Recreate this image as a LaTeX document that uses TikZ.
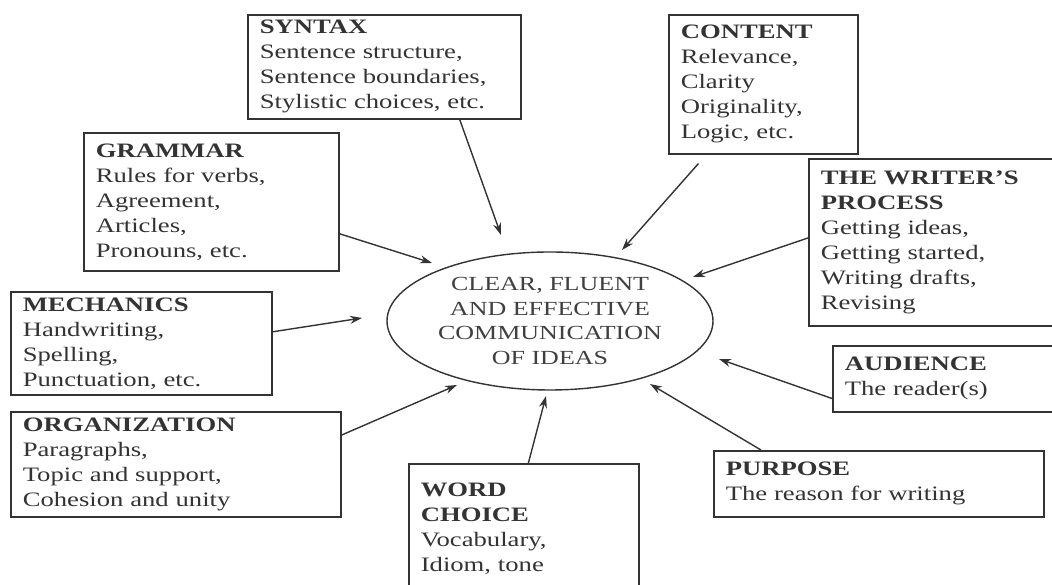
\documentclass[tikz,border=0pt]{standalone}
\usepackage{fontspec}
\setmainfont{Liberation Serif}[FakeStretch=1.3]
\usetikzlibrary{shapes.geometric,arrows.meta}

\definecolor{inkgray}{HTML}{333333}

\tikzset{
  topic/.style={draw=inkgray, line width=1.6pt, anchor=north west, align=left,
    inner xsep=12pt, text=black!80, font=\fontsize{20.5}{25}\selectfont},
  goal/.style={draw=inkgray, ellipse, line width=1.4pt, inner xsep=-10pt, inner ysep=-5pt,
    minimum width=326pt, minimum height=138pt, align=center, text=black!75,
    font=\fontsize{20}{24.5}\selectfont},
  feed/.style={draw=inkgray, line width=1.4pt, -{Stealth[length=12pt,width=8pt]}},
}

\begin{document}
\begin{tikzpicture}[x=1pt,y=1pt]
  \useasboundingbox (0,0) rectangle (1052,585);

  % centre
  \node[goal] (goal) at (550,264) {CLEAR, FLUENT\\ AND EFFECTIVE\\ COMMUNICATION\\ OF IDEAS};

  % boxes round it
  \node[topic, minimum width=273pt, minimum height=104pt, text width=249pt] (syntax) at (247,571)
    {\textbf{SYNTAX}\\ Sentence structure,\\ Sentence boundaries,\\ Stylistic choices, etc.};
  \node[topic, minimum width=189pt, minimum height=139pt, text width=165pt] (content) at (668,571)
    {\textbf{CONTENT}\\ Relevance,\\ Clarity\\ Originality,\\ Logic, etc.};
  \node[topic, minimum width=255pt, minimum height=138pt, text width=231pt] (grammar) at (83,453)
    {\textbf{GRAMMAR}\\ Rules for verbs,\\ Agreement,\\ Articles,\\ Pronouns, etc.};
  \node[topic, minimum width=246pt, minimum height=167pt, text width=222pt] (writer) at (808,427)
    {\textbf{THE WRITER’S}\\ \textbf{PROCESS}\\ Getting ideas,\\ Getting started,\\ Writing drafts,\\ Revising};
  \node[topic, minimum width=261pt, minimum height=103pt, text width=237pt] (mechanics) at (10,294)
    {\textbf{MECHANICS}\\ Handwriting,\\ Spelling,\\ Punctuation, etc.};
  \node[topic, minimum width=222pt, minimum height=66pt, text width=198pt] (audience) at (832,240)
    {\textbf{AUDIENCE}\\ The reader(s)};
  \node[topic, minimum width=330pt, minimum height=105pt, text width=306pt] (organization) at (10,174)
    {\textbf{ORGANIZATION}\\ Paragraphs,\\ Topic and support,\\ Cohesion and unity};
  \node[topic, minimum width=230pt, minimum height=130pt, text width=206pt] (wordchoice) at (408,122)
    {\textbf{WORD}\\ \textbf{CHOICE}\\ Vocabulary,\\ Idiom, tone};
  \node[topic, minimum width=330pt, minimum height=66pt, text width=306pt] (purpose) at (713,135)
    {\textbf{PURPOSE}\\ The reason for writing};

  % arrow ends, short of the ellipse
  \coordinate (syntaxtip) at (501,350);
  \coordinate (contenttip) at (622,335);
  \coordinate (grammartip) at (432,322);
  \coordinate (writertip) at (693,308);
  \coordinate (mechanicstip) at (362,267);
  \coordinate (organizationtip) at (457,200);
  \coordinate (wordtip) at (546,189);
  \coordinate (audiencetip) at (719,226);
  \coordinate (purposetip) at (650,201);

  \foreach \src/\dst in {syntax.-35/syntaxtip, grammar.-14/grammartip, writer.178/writertip,
      mechanics.5/mechanicstip, organization.10/organizationtip, wordchoice.86/wordtip,
      audience.190/audiencetip, purpose.164/purposetip}
    \draw[feed] (\src) -- (\dst);
  \draw[feed, shorten <=12pt] (content.-129) -- (contenttip);
\end{tikzpicture}
\end{document}
